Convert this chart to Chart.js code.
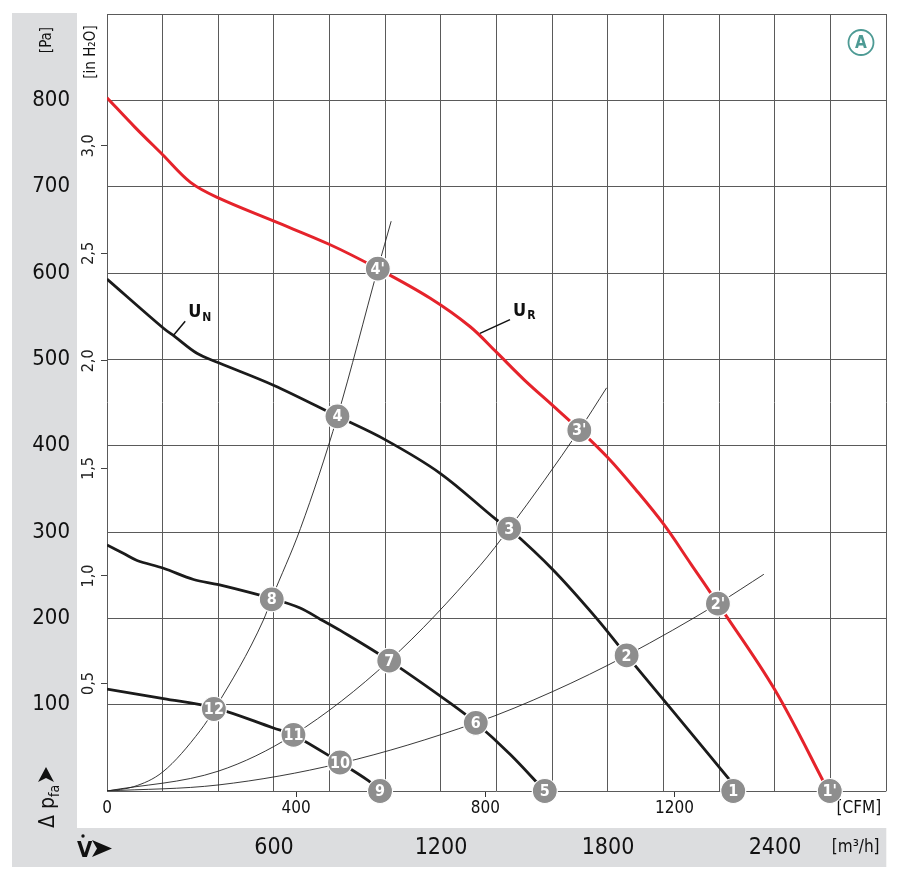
<!DOCTYPE html>
<html><head><meta charset="utf-8">
<script src="https://cdn.jsdelivr.net/npm/chart.js@4.4.0/dist/chart.umd.min.js"></script>
<style>html,body{margin:0;padding:0;background:#fff}#wrap{width:900px;height:880px;position:relative}</style>
</head><body><div id="wrap"><canvas id="c" width="900" height="880"></canvas></div>
<script>
const FONT = "'Liberation Sans Narrow','DejaVu Sans Condensed','Roboto Condensed','Liberation Sans',Arial,sans-serif";

// axis ranges / ticks
const xMaxM3 = 2800;            // m³/h
const yMaxPa = 900;             // Pa
const cfmTicks = [0, 400, 800, 1200, 1590];
const cfmLabels = ['0', '400', '800', '1200', '[CFM]'];
const m3Ticks = [600, 1200, 1800, 2400, 2690];
const m3Labels = ['600', '1200', '1800', '2400', '[m³/h]'];
const inTicks = [0.5, 1.0, 1.5, 2.0, 2.5, 3.0];
const inLabels = ['0,5', '1,0', '1,5', '2,0', '2,5', '3,0'];

// curves: [m³/h, Pa]
const curveUR = [[0,803],[100,769],[200,737],[300,705],[400,687],[600,660],[800,633],[973,605],[1160,571],[1304,538],[1400,508],[1500,476],[1600,447],[1699,418],[1800,386],[1900,349],[2000,309],[2100,262],[2195,217],[2400,117],[2592,0]];
const curveUN = [[0,593],[203,536],[245,526],[323,507],[401,496],[598,470],[828,434],[999,407],[1197,368],[1400,314],[1445,304],[1603,256],[1759,200],[1867,157],[2040,90],[2270,0]];
const curveMid = [[0,285],[60,275],[108,267],[203,258],[311,245],[401,239],[592,223],[694,212],[766,199],[838,186],[1014,151],[1232,102],[1325,79],[1450,42],[1573,0]];
const curveLow = [[0,118],[203,107],[389,96],[598,73],[670,65],[837,33],[939,12],[981,0]];
const sysA = [[0,0],[96,5],[200,22],[335,70],[389,96],[562,198],[592,223],[695,304],[828,434],[973,605],[1021,660]];
const sysB = [[0,0],[400,23],[670,65],[1014,151],[1340,261],[1445,304],[1697,418],[1795,467]];
const sysC = [[0,0],[400,7],[837,32],[1325,79],[1600,115],[1867,157],[2195,217],[2360,251]];

// operating point markers
const markerPts = [[2250,0],[1867,157],[1445,304],[828,434],[1573,0],[1325,79],[1014,151],[592,222],[981,0],[837,33],[670,65],[384,95],[2597,0],[2195,217],[1697,418],[973,605]];
const markerLabels = ['1','2','3','4','5','6','7','8','9','10','11','12',"1'","2'","3'","4'"];

const toXY = a => a.map(p => ({x: p[0], y: p[1]}));
const GRID = '#5a5a5a';
const BAND = '#dcdddf';
const RED = '#e5232b';
const BLACK = '#1b1b1b';

function zeroPad(s){ s.paddingLeft = 0; s.paddingRight = 0; s.paddingTop = 0; s.paddingBottom = 0; }

const line = (data, color, width, order, mono) => ({
  data: toXY(data), showLine: true, borderColor: color, borderWidth: width,
  pointRadius: 0, pointHoverRadius: 0, fill: false, order,
  tension: 0.35, cubicInterpolationMode: mono ? 'monotone' : 'default'
});

const textPlugin = {
  id: 'texts',
  beforeDraw(chart) {
    const c = chart.ctx, ca = chart.chartArea;
    c.save();
    c.fillStyle = '#fff'; c.fillRect(0, 0, chart.width, chart.height);
    c.fillStyle = BAND;
    c.fillRect(12, 13, 65, 854);
    c.fillRect(12, 828, ca.right - 12, 39);
    c.restore();
  },
  afterDraw(chart) {
    const c = chart.ctx, xs = chart.scales.x, ys = chart.scales.y;
    c.save();
    // marker labels
    const meta = chart.getDatasetMeta(0);
    c.fillStyle = '#fff'; c.textAlign = 'center'; c.textBaseline = 'middle';
    c.font = 'bold 16px ' + FONT;
    meta.data.forEach((el, i) => { c.fillText(markerLabels[i], el.x, el.y + 1); });

    // rotated axis titles
    c.fillStyle = '#111';
    const rot = (txt, x, y, font) => { c.save(); c.translate(x, y); c.rotate(-Math.PI/2); c.font = font; c.textAlign='center'; c.textBaseline='middle'; c.fillText(txt, 0, 0); c.restore(); };
    rot('[Pa]', 47, 40, '15px ' + FONT);
    rot('[in H₂O]', 91, 52, '15px ' + FONT);

    // Δ p_fa ➤
    c.save();
    c.translate(54, 828); c.rotate(-Math.PI/2);
    c.textAlign = 'left'; c.textBaseline = 'alphabetic';
    c.font = '21px ' + FONT; c.fillText('Δ', 0, 0);
    c.fillText('p', 19, 0);
    c.font = '14px ' + FONT; c.fillText('fa', 31, 5);
    c.beginPath(); c.moveTo(61, -8); c.lineTo(46, -16); c.lineTo(50, -8); c.lineTo(46, 0); c.closePath(); c.fill();
    c.restore();

    // V̇ ➤
    c.font = 'bold 22px ' + FONT; c.textAlign = 'left'; c.textBaseline = 'alphabetic';
    c.fillText('V', 77, 857);
    c.beginPath(); c.arc(83, 836, 1.7, 0, Math.PI*2); c.fill();
    c.beginPath(); c.moveTo(112, 848.5); c.lineTo(92, 840); c.lineTo(97, 848.5); c.lineTo(92, 857); c.closePath(); c.fill();

    // U_N / U_R labels with leaders
    const lab = (p0, p1, sub) => {
      const x0 = xs.getPixelForValue(p0[0]), y0 = ys.getPixelForValue(p0[1]);
      const x1 = xs.getPixelForValue(p1[0]), y1 = ys.getPixelForValue(p1[1]);
      c.strokeStyle = '#111'; c.lineWidth = 1.5;
      c.beginPath(); c.moveTo(x0, y0); c.lineTo(x1, y1); c.stroke();
      c.fillStyle = '#111'; c.textAlign = 'left'; c.textBaseline = 'alphabetic';
      c.font = 'bold 18px ' + FONT; c.fillText('U', x1 + 3, y1 - 4);
      const w = c.measureText('U').width;
      c.font = 'bold 12px ' + FONT; c.fillText(sub, x1 + 4 + w, y1 - 0.5);
    };
    lab([239, 528], [281, 544], 'N');
    lab([1340, 530], [1448, 546], 'R');

    // circled A
    c.strokeStyle = '#4d9a94'; c.lineWidth = 1.8;
    c.beginPath(); c.arc(861, 42.5, 12.5, 0, Math.PI*2); c.stroke();
    c.fillStyle = '#4d9a94'; c.font = 'bold 17px ' + FONT; c.textAlign = 'center'; c.textBaseline = 'middle';
    c.fillText('A', 861, 43.5);
    c.restore();
  }
};

new Chart(document.getElementById('c'), {
  type: 'scatter',
  data: {
    datasets: [
      { data: toXY(markerPts), showLine: false, pointRadius: 12.5, pointHoverRadius: 12.5,
        backgroundColor: '#8e8e8e', borderColor: '#ffffff', borderWidth: 1.2, clip: false, order: 0 },
      line(curveUR, RED, 3, 1, false),
      line(curveUN, BLACK, 2.8, 1, false),
      line(curveMid, BLACK, 2.8, 1, false),
      line(curveLow, BLACK, 2.8, 1, false),
      line(sysA, '#222', 0.9, 2, true),
      line(sysB, '#222', 0.9, 2, true),
      line(sysC, '#222', 0.9, 2, true)
    ]
  },
  options: {
    responsive: false, animation: false, devicePixelRatio: 1,
    layout: { padding: { top: 14, right: 13, bottom: 13, left: 0 } },
    plugins: { legend: { display: false }, tooltip: { enabled: false } },
    events: [],
    scales: {
      x: { type: 'linear', position: 'bottom', min: 0, max: xMaxM3, weight: 0,
        ticks: { display: false, stepSize: 200 },
        grid: { color: GRID, lineWidth: 1, drawTicks: false }, border: { display: false },
        afterFit(s) { s.height = 0; zeroPad(s); } },
      xcfm: { type: 'linear', position: 'bottom', min: 0, max: xMaxM3 / 1.699, weight: 1,
        afterBuildTicks(s) { s.ticks = cfmTicks.map(v => ({ value: v })); },
        ticks: { callback: v => cfmLabels[cfmTicks.indexOf(v)], font: { family: FONT, size: 17 }, color: '#111',
          padding: 1, maxRotation: 0, minRotation: 0, autoSkip: false },
        grid: { drawOnChartArea: false, drawTicks: true, tickLength: 6, lineWidth: 1,
          color: ctx => (ctx.tick && ctx.tick.value > 0 && ctx.tick.value <= 1200) ? '#333' : 'rgba(0,0,0,0)',
          tickColor: ctx => (ctx.tick && ctx.tick.value > 0 && ctx.tick.value <= 1200) ? '#333' : 'rgba(0,0,0,0)' },
        border: { display: false },
        afterFit(s) { s.height = 37; zeroPad(s); } },
      xm3: { type: 'linear', position: 'bottom', min: 0, max: xMaxM3, weight: 2,
        afterBuildTicks(s) { s.ticks = m3Ticks.map(v => ({ value: v })); },
        ticks: { callback: v => m3Labels[m3Ticks.indexOf(v)],
          font: ctx => (ctx.tick && ctx.tick.value === m3Ticks[m3Ticks.length - 1]) ? { family: FONT, size: 17, lineHeight: 1.6 } : { family: FONT, size: 23 },
          color: '#111', padding: 6, maxRotation: 0, minRotation: 0, autoSkip: false },
        grid: { display: false, drawTicks: false }, border: { display: false },
        afterFit(s) { s.height = 39; zeroPad(s); } },
      y: { type: 'linear', position: 'left', min: 0, max: yMaxPa, weight: 2,
        ticks: { stepSize: 100, callback: v => (v >= 100 && v <= 800) ? String(v) : '',
          font: { family: FONT, size: 22 }, color: '#111', padding: 7 },
        grid: { color: GRID, lineWidth: 1, drawTicks: false }, border: { display: false },
        afterFit(s) { s.width = 77; zeroPad(s); } },
      yin: { type: 'linear', position: 'left', min: 0, max: yMaxPa / 249.089, weight: 1,
        afterBuildTicks(s) { s.ticks = inTicks.map(v => ({ value: v })); },
        ticks: { callback: v => inLabels[inTicks.indexOf(v)], font: { family: FONT, size: 16 }, color: '#222',
          minRotation: 90, maxRotation: 90, crossAlign: 'center', padding: 1, autoSkip: false },
        grid: { drawOnChartArea: false, drawTicks: true, tickLength: 6, color: '#444', lineWidth: 1 },
        border: { display: false },
        afterFit(s) { s.width = 30; zeroPad(s); } }
    }
  },
  plugins: [textPlugin]
});
</script>
</body></html>
